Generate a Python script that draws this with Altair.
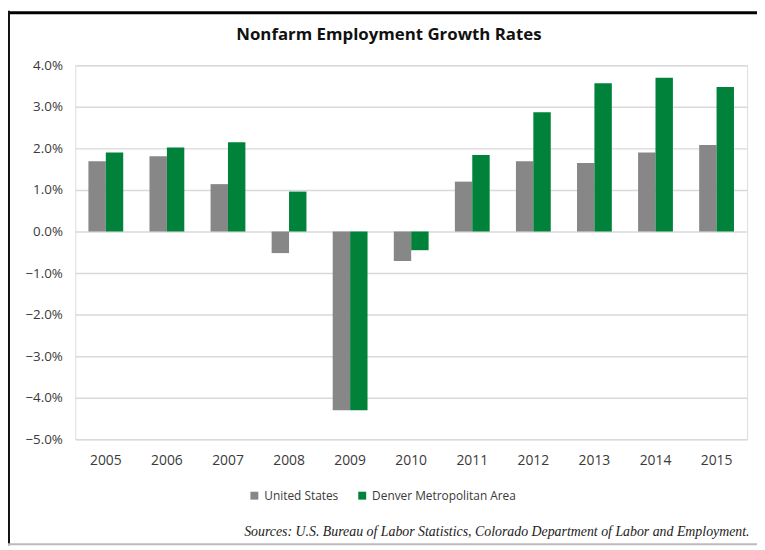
import altair as alt
import pandas as pd

years = ["2005", "2006", "2007", "2008", "2009", "2010", "2011", "2012", "2013", "2014", "2015"]
us = [1.69, 1.81, 1.14, -0.52, -4.30, -0.71, 1.20, 1.69, 1.65, 1.90, 2.08]
denver = [1.90, 2.02, 2.15, 0.96, -4.30, -0.45, 1.84, 2.87, 3.57, 3.70, 3.48]
series = ["United States", "Denver Metropolitan Area"]
colors = ["#878787", "#00823A"]
y_ticks = [4, 3, 2, 1, 0, -1, -2, -3, -4, -5]
title_text = ["Nonfarm Employment Growth Rates"]

rows = []
for i, yr in enumerate(years):
    rows.append({"year": yr, "series": series[0], "value": us[i] / 100})
    rows.append({"year": yr, "series": series[1], "value": denver[i] / 100})
df = pd.DataFrame(rows)

W, H = 679, 378
FONT = "Open Sans"

bars = alt.Chart(df).mark_bar().encode(
    x=alt.X("year:N", sort=years,
            scale=alt.Scale(paddingInner=0.43, paddingOuter=0.215),
            axis=alt.Axis(title="Sources: U.S. Bureau of Labor Statistics, Colorado Department of Labor and Employment.",
                          titleFont="Liberation Serif", titleFontStyle="italic", titleFontWeight="normal",
                          titleFontSize=14, titleColor="#222222",
                          titleAnchor="end", titleAlign="right", titleX=681, titleY=93,
                          titleBaseline="middle",
                          labelAngle=0, labelFont=FONT, labelFontSize=14, labelColor="#3a3a3a",
                          labelPadding=15, ticks=False, domain=False, grid=False)),
    xOffset=alt.XOffset("series:N", sort=series),
    y=alt.Y("value:Q",
            scale=alt.Scale(domain=[-0.05, 0.04], nice=False),
            axis=alt.Axis(title=None, values=[v / 100 for v in y_ticks], format=".1%",
                          labelFont=FONT, labelFontSize=13.5, labelColor="#3a3a3a",
                          labelPadding=13, ticks=False, domain=False,
                          gridColor="#d9d9d9", gridWidth=1.5)),
    color=alt.Color("series:N", sort=series,
                    scale=alt.Scale(domain=series, range=colors),
                    legend=alt.Legend(title=None, orient="none", direction="horizontal",
                                      legendX=175, legendY=429,
                                      symbolType="square", symbolSize=64, symbolStrokeWidth=0,
                                      labelFont=FONT, labelFontSize=12, labelColor="#3a3a3a",
                                      columnPadding=18, labelOffset=4)),
)

title = alt.Chart(pd.DataFrame({"t": title_text})).mark_text(
    font=FONT, fontSize=17, fontWeight="bold", color="#111111", align="center", baseline="middle"
).encode(text="t:N", x=alt.value(317), y=alt.value(-31))

top_border = alt.Chart(pd.DataFrame({"k": [0]})).mark_rule(color="#000000", strokeWidth=3).encode(
    x=alt.value(-68), x2=alt.value(W + 10), y=alt.value(-53))
left_border = alt.Chart(pd.DataFrame({"k": [0]})).mark_rule(color="#111111", strokeWidth=2).encode(
    x=alt.value(-67), y=alt.value(-55), y2=alt.value(H + 107))
bottom_border = alt.Chart(pd.DataFrame({"k": [0]})).mark_rule(color="#bbbbbb", strokeWidth=2).encode(
    x=alt.value(-68), x2=alt.value(W + 10), y=alt.value(H + 106))

chart = alt.layer(bars, title, top_border, left_border, bottom_border).properties(
    width=W, height=H,
    padding={"left": 68, "top": 55, "right": 10, "bottom": 107},
    autosize=alt.AutoSizeParams(type="none"),
).configure_view(stroke="#d9d9d9", strokeWidth=2).configure(background="white")

chart.save("out.html", embed_options={"renderer": "svg", "actions": False})
